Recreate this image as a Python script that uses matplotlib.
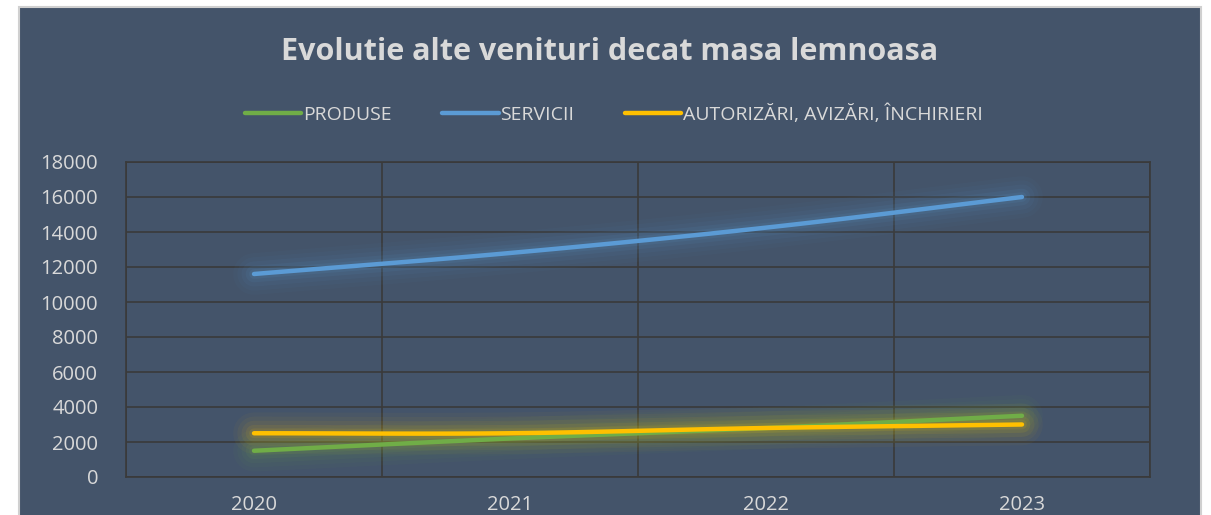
import numpy as np
import matplotlib.pyplot as plt
from matplotlib.patches import Rectangle
from matplotlib.lines import Line2D

years = ['2020', '2021', '2022', '2023']
produse = [1500, 2200, 2800, 3500]
servicii = [11600, 12800, 14250, 16000]
autorizari = [2500, 2500, 2800, 3000]

series = [
    ('PRODUSE', produse, '#70AD47'),
    ('SERVICII', servicii, '#5B9BD5'),
    ('AUTORIZĂRI, AVIZĂRI, ÎNCHIRIERI', autorizari, '#FFC000'),
]

bg = '#44546A'
txt = '#D9D9D9'
grid = '#3A3A3A'

plt.rcParams['font.family'] = ['Open Sans', 'DejaVu Sans']


def smooth(x, y, n=30):
    # catmull-rom curve through the points, like excel's smoothed line
    x = np.asarray(x, float)
    y = np.asarray(y, float)
    px = np.concatenate([[2 * x[0] - x[1]], x, [2 * x[-1] - x[-2]]])
    py = np.concatenate([[2 * y[0] - y[1]], y, [2 * y[-1] - y[-2]]])
    xs, ys = [], []
    t = np.linspace(0, 1, n)
    for i in range(1, len(px) - 2):
        for p, out in ((px, xs), (py, ys)):
            p0, p1, p2, p3 = p[i - 1], p[i], p[i + 1], p[i + 2]
            out.extend(0.5 * ((2 * p1) + (-p0 + p2) * t
                              + (2 * p0 - 5 * p1 + 4 * p2 - p3) * t ** 2
                              + (-p0 + 3 * p1 - 3 * p2 + p3) * t ** 3))
    return np.array(xs), np.array(ys)


fig = plt.figure(figsize=(12.11, 5.15), dpi=100, facecolor='white')
fig.patches.append(Rectangle((19 / 1211, -0.01), 1182 / 1211, 1 - 7 / 515 + 0.01,
                             transform=fig.transFigure, facecolor=bg,
                             edgecolor='#D0D0D0', linewidth=1.5, zorder=-5))

ax = fig.add_axes([126 / 1211, 38 / 515, 1024 / 1211, 315 / 515])
ax.set_facecolor(bg)
ax.patch.set_alpha(0)

x = np.arange(len(years))
for name, vals, col in series:
    sx, sy = smooth(x, vals)
    # soft glow around each line
    for w, a in ((30, 0.035), (24, 0.045), (18, 0.06), (12, 0.08), (7, 0.1)):
        ax.plot(sx, sy, color=col, lw=w, alpha=a, solid_capstyle='round', zorder=2)
for name, vals, col in series:
    sx, sy = smooth(x, vals)
    ax.plot(sx, sy, color=col, lw=3.2, solid_capstyle='round', zorder=3)

ax.set_xlim(-0.5, 3.5)
ax.set_ylim(0, 18000)
ax.set_yticks(range(0, 18001, 2000))
ax.set_xticks(x)
ax.set_xticklabels(years)
ax.set_xticks(np.arange(-0.5, 3.6, 1), minor=True)
ax.grid(True, which='major', axis='y', color=grid, lw=1.2)
ax.grid(True, which='minor', axis='x', color=grid, lw=1.2)
ax.set_axisbelow(True)
for s in ax.spines.values():
    s.set_color(grid)
    s.set_linewidth(1.2)
ax.tick_params(which='both', length=0, colors=txt, labelsize=14.5)
ax.tick_params(axis='y', pad=20)
ax.tick_params(axis='x', pad=13)

fig.text(610 / 1211, 1 - 52 / 515, 'Evolutie alte venituri decat masa lemnoasa',
         ha='center', va='center', fontsize=22, fontweight='bold', color=txt)

handles = [Line2D([0], [0], color=c, lw=3.2, solid_capstyle='round') for _, _, c in series]
fig.legend(handles, [n for n, _, _ in series], loc='center',
           bbox_to_anchor=(614 / 1211, 1 - 114 / 515), ncol=3, frameon=False,
           fontsize=14, labelcolor=txt, handlelength=2.9, handletextpad=0.1,
           columnspacing=2.6)

fig.savefig('out.png', dpi=100, facecolor='white')
